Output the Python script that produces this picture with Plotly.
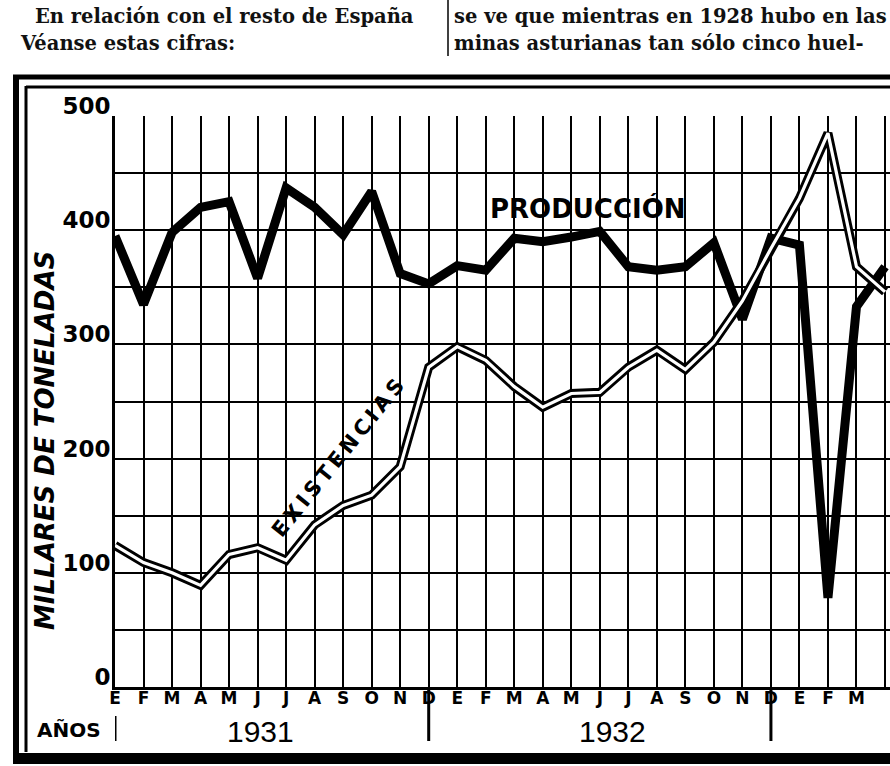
import plotly.graph_objects as go

# ---------------- data ----------------
months = ["E", "F", "M", "A", "M", "J", "J", "A", "S", "O", "N", "D",
          "E", "F", "M", "A", "M", "J", "J", "A", "S", "O", "N", "D",
          "E", "F", "M", "A"]
years = ["1931", "1932"]
year_centers = [5.1, 17.43]
year_separators = [0, 11, 23]
produccion = [395, 335, 398, 420, 425, 358, 437, 420, 396, 434, 362, 353,
              369, 365, 393, 390, 394, 399, 368, 365, 368, 389, 322, 393,
              387, 78, 333, 368]
existencias = [124, 109, 100, 89, 116, 122, 111, 142, 159, 168, 193, 280,
               298, 286, 263, 245, 257, 258, 280, 295, 278, 302, 338, 384,
               428, 485, 368, 346]
y_ticks = [0, 100, 200, 300, 400, 500]
x_idx = list(range(len(months)))

# ---------------- layout geometry ----------------
W, H = 890, 766
L, R, T, B = 115, 0, 116, 79
PW, PH = W - L - R, H - T - B


def px(xp):
    return (xp - L) / PW


def py(yp):
    return (H - B - yp) / PH


SANS = "DejaVu Sans"
SERIF = "DejaVu Serif"

fig = go.Figure()
fig.add_trace(go.Scatter(x=x_idx, y=produccion, mode="lines",
                         line=dict(color="black", width=9),
                         hoverinfo="skip", showlegend=False))
fig.add_trace(go.Scatter(x=x_idx, y=existencias, mode="lines",
                         line=dict(color="black", width=9),
                         hoverinfo="skip", showlegend=False))
fig.add_trace(go.Scatter(x=x_idx, y=existencias, mode="lines",
                         line=dict(color="white", width=3.2),
                         hoverinfo="skip", showlegend=False))

fig.update_layout(
    width=W, height=H,
    margin=dict(l=L, r=R, t=T, b=B, autoexpand=False),
    paper_bgcolor="white", plot_bgcolor="white",
    showlegend=False,
    xaxis=dict(range=[0, 27 + 5 / 28.52], tickmode="array", tickvals=x_idx,
               ticktext=months, showgrid=True, gridcolor="black", gridwidth=2,
               zeroline=False, showline=True, linecolor="black", linewidth=3,
               ticks="", ticklabelstandoff=-6, automargin=False,
               tickfont=dict(family=SANS, size=17, color="black", weight="bold")),
    yaxis=dict(range=[0, 500], tickmode="array", tickvals=y_ticks,
               showgrid=True, gridcolor="black", gridwidth=2,
               minor=dict(dtick=50, tick0=0, showgrid=True, gridcolor="black",
                          gridwidth=2),
               zeroline=False, showline=True, linecolor="black", linewidth=3,
               ticks="", ticklabelstandoff=-3, ticklabelshift=-10, automargin=False,
               tickfont=dict(family=SANS, size=23, color="black", weight="bold")),
)

ann = []
ann.append(dict(x=16.58, y=418.6, xref="x", yref="y", text="PRODUCCIÓN",
                xanchor="center", yanchor="middle",
                showarrow=False, font=dict(family=SANS, size=26, color="black",
                                           weight="bold")))
ann.append(dict(x=7.82, y=200.5, xref="x", yref="y",
                text="E\u2009X\u2009I\u2009S\u2009T\u2009E\u2009N\u2009C\u2009I\u2009A\u2009S",
                textangle=-51, showarrow=False, xanchor="center", yanchor="middle",
                font=dict(family=SANS, size=21, color="black", weight="bold")))
for yr, xc in zip(years, year_centers):
    ann.append(dict(x=xc, y=py(731), xref="x", yref="paper", text=yr,
                    xanchor="center", yanchor="middle",
                    showarrow=False, font=dict(family="Liberation Sans", size=30,
                                               color="black")))
ann.append(dict(x=px(69), y=py(730), xref="paper", yref="paper", text="AÑOS",
                xanchor="center", yanchor="middle",
                showarrow=False, font=dict(family=SANS, size=20, color="black",
                                           weight="bold")))
ann.append(dict(x=px(45), y=py(441), xref="paper", yref="paper",
                text="MILLARES DE TONELADAS", textangle=-90, showarrow=False,
                xanchor="center", yanchor="middle",
                font=dict(family=SANS, size=26, color="black", weight="bold",
                          style="italic")))
# newspaper text around the chart
news = [("En relación con el resto de España", 33, 17),
        ("Véanse estas cifras:", 18, 44),
        ("se ve que mientras en 1928 hubo en las", 452, 17),
        ("minas asturianas tan sólo cinco huel-", 452, 44)]
for txt, xl, yc in news:
    ann.append(dict(x=px(xl), y=py(yc), xref="paper", yref="paper", text=txt,
                    xanchor="left", yanchor="middle", showarrow=False,
                    font=dict(family=SERIF, size=19.5, color="#111",
                              weight="bold")))
fig.update_layout(annotations=ann)

shapes = []
# year separators
for i, s in enumerate(year_separators):
    y0 = py(716) if i == 0 else py(687)
    shapes.append(dict(type="line", xref="x", yref="paper", x0=s, x1=s,
                       y0=y0, y1=py(741), line=dict(color="black", width=3)))
# frame
shapes += [
    dict(type="line", xref="paper", yref="paper", x0=px(16), x1=px(16),
         y0=py(75), y1=py(764), line=dict(color="black", width=6)),
    dict(type="line", xref="paper", yref="paper", x0=px(26), x1=px(26),
         y0=py(86), y1=py(752), line=dict(color="black", width=3)),
    dict(type="line", xref="paper", yref="paper", x0=px(13), x1=px(890),
         y0=py(77), y1=py(77), line=dict(color="black", width=5)),
    dict(type="line", xref="paper", yref="paper", x0=px(26), x1=px(890),
         y0=py(87), y1=py(87), line=dict(color="black", width=3)),
    dict(type="rect", xref="paper", yref="paper", x0=px(13), x1=px(890),
         y0=py(764), y1=py(753), line=dict(width=0), fillcolor="black"),
    dict(type="line", xref="paper", yref="paper", x0=px(448), x1=px(448),
         y0=py(0), y1=py(56), line=dict(color="black", width=1.5)),
]
fig.update_layout(shapes=shapes)

fig.write_html("out.html",
               config={"displayModeBar": False},
               post_script="document.body.style.margin='0';"
                           "document.body.style.overflow='hidden';")
